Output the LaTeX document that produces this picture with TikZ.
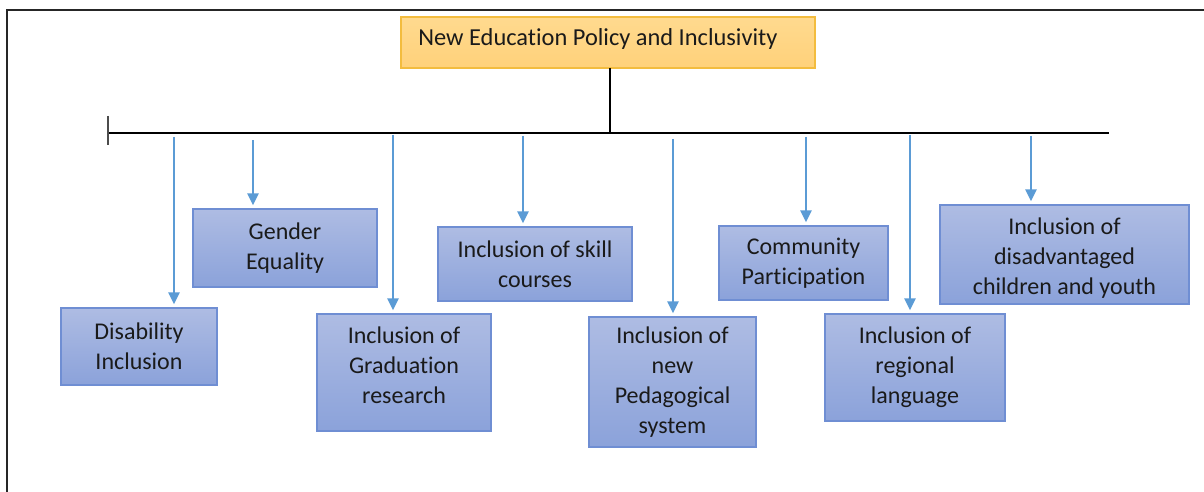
\documentclass[tikz,border=0pt]{standalone}
\usepackage{fontspec}
\setmainfont{Carlito}[Ligatures=NoCommon]
\usetikzlibrary{arrows.meta}
\definecolor{boxtop}{HTML}{AEBCE3}
\definecolor{boxbot}{HTML}{8BA2DA}
\definecolor{boxline}{HTML}{6F8ED3}
\definecolor{headtop}{HTML}{FFDA8F}
\definecolor{headbot}{HTML}{FFD17A}
\definecolor{headline}{HTML}{F3BC3E}
\definecolor{arrowblue}{HTML}{5B9BD5}
\definecolor{ink}{HTML}{1A1A1A}
\tikzset{
  topictext/.style={text=ink, align=center, inner sep=0pt,
    font=\fontsize{12}{15}\selectfont},
  topicbox/.style={draw=boxline, line width=0.6pt, top color=boxtop, bottom color=boxbot,
    topictext},
  headbox/.style={draw=headline, line width=0.6pt, top color=headtop, bottom color=headbot,
    inner sep=0pt},
  headtext/.style={text=ink, inner sep=0pt, font=\fontsize{12.2}{14}\selectfont},
  branch/.style={draw=arrowblue, line width=1.2pt, -{Triangle[width=5.5pt,length=6pt]}, shorten >=1.5pt},
  spine/.style={draw=black, line width=1.4pt}
}
\begin{document}
\begin{tikzpicture}[x=0.5pt,y=-0.5pt]
\useasboundingbox (0,0) rectangle (1204,492);
% frame (top and left edges)
\draw[line width=1pt, black!85] (6.5,492) -- (6.5,10.5) -- (1204,10.5);

% heading
\node[headbox, minimum width=207pt, minimum height=25.5pt] (title) at (608,42.5) {};
\node[headtext, anchor=west] (titletext) at (418,39) {New Education Policy and Inclusivity};

% spine
\coordinate (hl) at (108,133);
\coordinate (hr) at (1109,133);
\coordinate (tee) at (610,68);
\draw[spine] (hl) -- (hr);
\draw[spine] (tee) -- (tee |- hl);
\coordinate (tickt) at (108,116);
\coordinate (tickb) at (108,145);
\draw[line width=0.6pt, black!70] (tickt) -- (tickb);

% topic boxes
\node[topicbox, minimum width=78pt,  minimum height=38.5pt] (dis)  at (139,346.5) {Disability\\Inclusion};
\node[topicbox, minimum width=92pt,  minimum height=39pt]   (gen)  at (285,248)   {Gender\\Equality};
\node[topicbox, minimum width=87pt,  minimum height=58.5pt,
      label={[topictext, yshift=3.5pt]center:{Inclusion of\\Graduation\\research}}] (grad) at (404,372.5) {};
\node[topicbox, minimum width=97pt,  minimum height=37pt]   (skill) at (535,264)  {Inclusion of skill\\courses};
\node[topicbox, minimum width=83.5pt,minimum height=65pt]   (ped)  at (672.5,382) {Inclusion of\\new\\Pedagogical\\system};
\node[topicbox, minimum width=84.5pt,minimum height=37pt]   (com)  at (803.5,263) {Community\\Participation};
\node[topicbox, minimum width=90pt,  minimum height=53.5pt] (reg)  at (915,367.5) {Inclusion of\\regional\\language};
\node[topicbox, minimum width=124.5pt,minimum height=49.5pt,
      label={[topictext, yshift=-2pt]center:{Inclusion of\\disadvantaged\\children and youth}}] (dadv) at (1064.5,254.5) {};

% branch start points under the spine
\coordinate (b1) at (174,137);
\coordinate (b2) at (253,140);
\coordinate (b3) at (393,135);
\coordinate (b4) at (523,136);
\coordinate (b5) at (673,139);
\coordinate (b6) at (806,137);
\coordinate (b7) at (910,135);
\coordinate (b8) at (1031,136);

\draw[branch] (b1) -- (b1 |- dis.north);
\draw[branch] (b2) -- (b2 |- gen.north);
\draw[branch] (b3) -- (b3 |- grad.north);
\draw[branch] (b4) -- (b4 |- skill.north);
\draw[branch] (b5) -- (b5 |- ped.north);
\draw[branch] (b6) -- (b6 |- com.north);
\draw[branch] (b7) -- (b7 |- reg.north);
\draw[branch] (b8) -- (b8 |- dadv.north);
\end{tikzpicture}
\end{document}
